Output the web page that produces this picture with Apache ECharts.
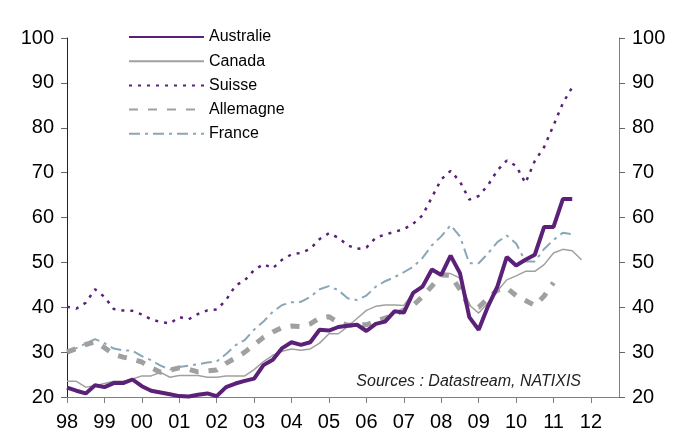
<!DOCTYPE html>
<html>
<head>
<meta charset="utf-8">
<script src="https://cdn.jsdelivr.net/npm/echarts@6/dist/echarts.min.js"></script>
<style>
  html, body { margin: 0; padding: 0; background: #fff; }
  #chart { width: 689px; height: 441px; }
</style>
</head>
<body>
<div id="chart"></div>
<script>
// trimestres 1998T1 .. 2012T4
const years = ['98', '99', '00', '01', '02', '03', '04', '05', '06', '07', '08', '09', '10', '11', '12'];
const quarters = [];
years.forEach(y => { for (let q = 1; q <= 4; q++) quarters.push(y + 'T' + q); });

const australie = [22.1, 21.4, 20.8, 22.6, 22.2, 23.1, 23.1, 23.9, 22.4, 21.4, 21.0, 20.6, 20.2, 20.1, 20.5, 20.8,
  20.2, 22.2, 23.0, 23.6, 24.1, 27.1, 28.3, 30.9, 32.2, 31.6, 32.2, 35.0, 34.8, 35.6, 35.9, 36.1,
  34.7, 36.3, 36.8, 39.1, 38.8, 43.2, 44.6, 48.4, 47.2, 51.5, 47.6, 37.8, 35.0, 40.2, 44.6, 51.2,
  49.3, 50.6, 51.7, 57.9, 57.9, 64.1, 64.1];
const canada = [23.5, 23.5, 22.2, 22.5, 23.0, 23.5, 23.5, 24.0, 24.7, 24.7, 25.5, 24.4, 24.8, 24.8, 24.8, 24.4,
  24.4, 24.7, 24.7, 24.7, 26.1, 27.9, 29.3, 30.2, 30.7, 30.4, 30.7, 32.0, 34.1, 34.1, 35.7, 37.5,
  39.3, 40.2, 40.5, 40.5, 40.4, 43.3, 45.0, 48.0, 47.6, 47.5, 46.5, 40.5, 38.7, 41.0, 43.6, 46.1,
  47.0, 48.0, 48.0, 49.5, 52.1, 52.9, 52.6, 50.6];
const suisse = [40.1, 39.7, 41.0, 44.0, 42.3, 39.6, 39.3, 39.2, 38.4, 37.3, 36.7, 36.4, 37.8, 37.3, 38.5, 39.3,
  39.5, 41.6, 44.8, 46.0, 48.3, 49.6, 48.7, 50.6, 51.8, 52.1, 53.0, 55.2, 56.5, 55.5, 53.8, 53.0,
  53.3, 55.5, 56.2, 56.8, 57.4, 58.6, 60.5, 64.5, 68.5, 70.4, 68.0, 64.0, 64.8, 67.2, 70.5, 72.7,
  71.5, 67.7, 72.6, 75.7, 80.5, 85.5, 89.0];
const allemagne = [30.0, 30.8, 31.7, 32.3, 31.0, 29.5, 28.9, 28.4, 27.8, 26.5, 25.5, 26.0, 26.5, 26.2, 25.6, 25.8,
  26.0, 27.5, 28.7, 30.0, 31.6, 33.3, 34.5, 35.5, 35.8, 35.7, 36.3, 37.6, 37.9, 36.6, 36.0, 36.1,
  36.1, 36.9, 37.6, 38.3, 39.4, 40.4, 42.4, 44.7, 47.2, 47.1, 44.0, 40.0, 40.0, 42.0, 43.8, 44.3,
  42.6, 41.5, 40.4, 42.5, 45.5];
const france = [30.3, 30.9, 31.9, 32.9, 32.0, 30.8, 30.4, 30.3, 29.1, 28.2, 27.0, 26.1, 26.7, 27.0, 27.3, 27.7,
  27.9, 29.6, 31.5, 32.7, 35.0, 36.8, 39.0, 40.5, 41.1, 41.2, 42.3, 44.0, 44.7, 43.8, 42.0, 41.6,
  42.6, 44.6, 45.8, 46.7, 47.8, 49.0, 51.0, 53.8, 55.8, 58.3, 55.8, 49.8, 49.8, 52.0, 54.5, 56.0,
  54.2, 50.2, 50.2, 53.0, 55.0, 56.6, 56.3];

const purple = '#5B2178';
const font = '"Liberation Sans", Arial, sans-serif';

const chart = echarts.init(document.getElementById('chart'));

const yAxisBase = {
  type: 'value',
  min: 20,
  max: 100,
  interval: 10,
  splitLine: { show: false },
  axisTick: { show: true, length: 6, lineStyle: { color: '#666' } },
  axisLabel: { fontSize: 20, color: '#000', fontFamily: font, margin: 13 },
};

chart.setOption({
  animation: false,
  grid: { left: 67, right: 70, top: 38, bottom: 44 },
  legend: {
    orient: 'vertical',
    left: 123,
    top: 24,
    itemWidth: 75,
    itemHeight: 14,
    itemGap: 8.2,
    itemStyle: { opacity: 0 },
    textStyle: { fontSize: 16, color: '#000', fontFamily: font },
    data: ['Australie', 'Canada', 'Suisse', 'Allemagne', 'France'],
  },
  xAxis: {
    type: 'category',
    data: quarters,
    boundaryGap: false,
    axisLine: { lineStyle: { color: '#808080', width: 1 } },
    axisTick: { interval: 3, length: 6, lineStyle: { color: '#808080' } },
    axisLabel: {
      interval: 3,
      fontSize: 20,
      color: '#000',
      fontFamily: font,
      margin: 15,
      formatter: v => v.slice(0, 2),
    },
  },
  yAxis: [
    Object.assign({}, yAxisBase, { position: 'left', axisLine: { show: true, lineStyle: { color: '#222' } } }),
    Object.assign({}, yAxisBase, { position: 'right', axisLine: { show: true, lineStyle: { color: '#808080' } } }),
  ],
  graphic: [{
    type: 'text',
    right: 108,
    top: 374,
    style: { text: 'Sources : Datastream, NATIXIS', font: 'italic 16px ' + font, fill: '#222' },
  }],
  series: [
    {
      name: 'Suisse', type: 'line', data: suisse, symbol: 'none', z: 2,
      lineStyle: { color: purple, width: 2.5, type: [3, 6] },
      itemStyle: { color: purple },
    },
    {
      name: 'France', type: 'line', data: france, symbol: 'none', z: 2,
      lineStyle: { color: '#8BA6B6', width: 2, type: [11, 5, 3, 5] },
      itemStyle: { color: '#8BA6B6' },
    },
    {
      name: 'Allemagne', type: 'line', data: allemagne, symbol: 'none', z: 3,
      lineStyle: { color: '#A0A0A0', width: 5, type: [9, 10] },
      itemStyle: { color: '#A0A0A0' },
    },
    {
      name: 'Canada', type: 'line', data: canada, symbol: 'none', z: 4,
      lineStyle: { color: '#A0A0A0', width: 1.5 },
      itemStyle: { color: '#A0A0A0' },
    },
    {
      name: 'Australie', type: 'line', data: australie, symbol: 'none', z: 5,
      lineStyle: { color: purple, width: 4 },
      itemStyle: { color: purple },
    },
  ],
});
</script>
</body>
</html>
